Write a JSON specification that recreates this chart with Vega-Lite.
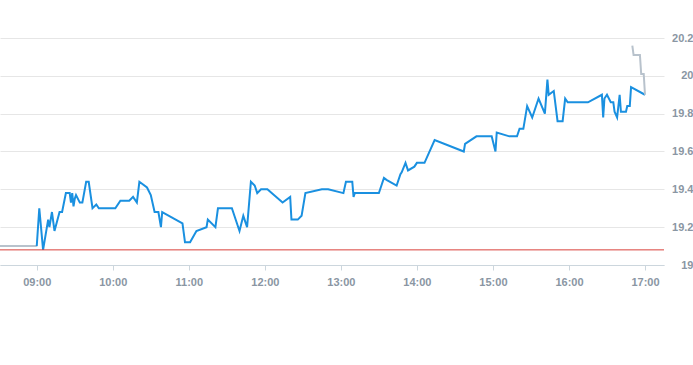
{
  "$schema": "https://vega.github.io/schema/vega-lite/v6.json",
  "width": 664,
  "height": 227,
  "autosize": "none",
  "padding": {"left": 0, "top": 38, "right": 29, "bottom": 100},
  "background": "white",
  "config": {"view": {"stroke": null}, "font": "Liberation Sans"},
  "datasets": {
    "price": [
      {"t": "2024-01-02T08:31", "v": 19.10, "s": "pre"},
      {"t": "2024-01-02T09:00", "v": 19.10, "s": "pre"},
      {"t": "2024-01-02T09:00", "v": 19.10, "s": "main"},
      {"t": "2024-01-02T09:02", "v": 19.30, "s": "main"},
      {"t": "2024-01-02T09:05", "v": 19.08, "s": "main"},
      {"t": "2024-01-02T09:09", "v": 19.24, "s": "main"},
      {"t": "2024-01-02T09:10", "v": 19.20, "s": "main"},
      {"t": "2024-01-02T09:12", "v": 19.28, "s": "main"},
      {"t": "2024-01-02T09:14", "v": 19.18, "s": "main"},
      {"t": "2024-01-02T09:18", "v": 19.28, "s": "main"},
      {"t": "2024-01-02T09:20", "v": 19.28, "s": "main"},
      {"t": "2024-01-02T09:23", "v": 19.38, "s": "main"},
      {"t": "2024-01-02T09:26", "v": 19.38, "s": "main"},
      {"t": "2024-01-02T09:27", "v": 19.33, "s": "main"},
      {"t": "2024-01-02T09:28", "v": 19.38, "s": "main"},
      {"t": "2024-01-02T09:29", "v": 19.31, "s": "main"},
      {"t": "2024-01-02T09:30", "v": 19.35, "s": "main"},
      {"t": "2024-01-02T09:31", "v": 19.37, "s": "main"},
      {"t": "2024-01-02T09:34", "v": 19.33, "s": "main"},
      {"t": "2024-01-02T09:36", "v": 19.33, "s": "main"},
      {"t": "2024-01-02T09:39", "v": 19.44, "s": "main"},
      {"t": "2024-01-02T09:41", "v": 19.44, "s": "main"},
      {"t": "2024-01-02T09:44", "v": 19.30, "s": "main"},
      {"t": "2024-01-02T09:47", "v": 19.32, "s": "main"},
      {"t": "2024-01-02T09:49", "v": 19.30, "s": "main"},
      {"t": "2024-01-02T10:02", "v": 19.30, "s": "main"},
      {"t": "2024-01-02T10:06", "v": 19.34, "s": "main"},
      {"t": "2024-01-02T10:13", "v": 19.34, "s": "main"},
      {"t": "2024-01-02T10:16", "v": 19.36, "s": "main"},
      {"t": "2024-01-02T10:19", "v": 19.33, "s": "main"},
      {"t": "2024-01-02T10:21", "v": 19.44, "s": "main"},
      {"t": "2024-01-02T10:27", "v": 19.41, "s": "main"},
      {"t": "2024-01-02T10:30", "v": 19.37, "s": "main"},
      {"t": "2024-01-02T10:33", "v": 19.28, "s": "main"},
      {"t": "2024-01-02T10:36", "v": 19.28, "s": "main"},
      {"t": "2024-01-02T10:38", "v": 19.20, "s": "main"},
      {"t": "2024-01-02T10:39", "v": 19.28, "s": "main"},
      {"t": "2024-01-02T10:55", "v": 19.22, "s": "main"},
      {"t": "2024-01-02T10:57", "v": 19.12, "s": "main"},
      {"t": "2024-01-02T11:01", "v": 19.12, "s": "main"},
      {"t": "2024-01-02T11:06", "v": 19.18, "s": "main"},
      {"t": "2024-01-02T11:14", "v": 19.20, "s": "main"},
      {"t": "2024-01-02T11:15", "v": 19.24, "s": "main"},
      {"t": "2024-01-02T11:21", "v": 19.20, "s": "main"},
      {"t": "2024-01-02T11:23", "v": 19.30, "s": "main"},
      {"t": "2024-01-02T11:34", "v": 19.30, "s": "main"},
      {"t": "2024-01-02T11:40", "v": 19.18, "s": "main"},
      {"t": "2024-01-02T11:43", "v": 19.26, "s": "main"},
      {"t": "2024-01-02T11:46", "v": 19.20, "s": "main"},
      {"t": "2024-01-02T11:49", "v": 19.44, "s": "main"},
      {"t": "2024-01-02T11:52", "v": 19.42, "s": "main"},
      {"t": "2024-01-02T11:54", "v": 19.38, "s": "main"},
      {"t": "2024-01-02T11:57", "v": 19.40, "s": "main"},
      {"t": "2024-01-02T12:02", "v": 19.40, "s": "main"},
      {"t": "2024-01-02T12:14", "v": 19.33, "s": "main"},
      {"t": "2024-01-02T12:20", "v": 19.36, "s": "main"},
      {"t": "2024-01-02T12:21", "v": 19.24, "s": "main"},
      {"t": "2024-01-02T12:26", "v": 19.24, "s": "main"},
      {"t": "2024-01-02T12:29", "v": 19.26, "s": "main"},
      {"t": "2024-01-02T12:32", "v": 19.38, "s": "main"},
      {"t": "2024-01-02T12:45", "v": 19.40, "s": "main"},
      {"t": "2024-01-02T12:50", "v": 19.40, "s": "main"},
      {"t": "2024-01-02T13:02", "v": 19.38, "s": "main"},
      {"t": "2024-01-02T13:04", "v": 19.44, "s": "main"},
      {"t": "2024-01-02T13:09", "v": 19.44, "s": "main"},
      {"t": "2024-01-02T13:10", "v": 19.36, "s": "main"},
      {"t": "2024-01-02T13:11", "v": 19.38, "s": "main"},
      {"t": "2024-01-02T13:30", "v": 19.38, "s": "main"},
      {"t": "2024-01-02T13:32", "v": 19.42, "s": "main"},
      {"t": "2024-01-02T13:34", "v": 19.46, "s": "main"},
      {"t": "2024-01-02T13:36", "v": 19.45, "s": "main"},
      {"t": "2024-01-02T13:44", "v": 19.42, "s": "main"},
      {"t": "2024-01-02T13:47", "v": 19.48, "s": "main"},
      {"t": "2024-01-02T13:48", "v": 19.49, "s": "main"},
      {"t": "2024-01-02T13:51", "v": 19.54, "s": "main"},
      {"t": "2024-01-02T13:53", "v": 19.50, "s": "main"},
      {"t": "2024-01-02T13:58", "v": 19.52, "s": "main"},
      {"t": "2024-01-02T14:00", "v": 19.54, "s": "main"},
      {"t": "2024-01-02T14:06", "v": 19.54, "s": "main"},
      {"t": "2024-01-02T14:14", "v": 19.66, "s": "main"},
      {"t": "2024-01-02T14:37", "v": 19.60, "s": "main"},
      {"t": "2024-01-02T14:38", "v": 19.64, "s": "main"},
      {"t": "2024-01-02T14:47", "v": 19.68, "s": "main"},
      {"t": "2024-01-02T14:59", "v": 19.68, "s": "main"},
      {"t": "2024-01-02T15:02", "v": 19.60, "s": "main"},
      {"t": "2024-01-02T15:03", "v": 19.70, "s": "main"},
      {"t": "2024-01-02T15:13", "v": 19.68, "s": "main"},
      {"t": "2024-01-02T15:19", "v": 19.68, "s": "main"},
      {"t": "2024-01-02T15:21", "v": 19.72, "s": "main"},
      {"t": "2024-01-02T15:24", "v": 19.72, "s": "main"},
      {"t": "2024-01-02T15:27", "v": 19.84, "s": "main"},
      {"t": "2024-01-02T15:31", "v": 19.78, "s": "main"},
      {"t": "2024-01-02T15:36", "v": 19.88, "s": "main"},
      {"t": "2024-01-02T15:41", "v": 19.80, "s": "main"},
      {"t": "2024-01-02T15:43", "v": 19.98, "s": "main"},
      {"t": "2024-01-02T15:44", "v": 19.90, "s": "main"},
      {"t": "2024-01-02T15:48", "v": 19.92, "s": "main"},
      {"t": "2024-01-02T15:51", "v": 19.76, "s": "main"},
      {"t": "2024-01-02T15:55", "v": 19.76, "s": "main"},
      {"t": "2024-01-02T15:57", "v": 19.88, "s": "main"},
      {"t": "2024-01-02T15:59", "v": 19.86, "s": "main"},
      {"t": "2024-01-02T16:15", "v": 19.86, "s": "main"},
      {"t": "2024-01-02T16:26", "v": 19.90, "s": "main"},
      {"t": "2024-01-02T16:27", "v": 19.78, "s": "main"},
      {"t": "2024-01-02T16:28", "v": 19.88, "s": "main"},
      {"t": "2024-01-02T16:30", "v": 19.90, "s": "main"},
      {"t": "2024-01-02T16:33", "v": 19.86, "s": "main"},
      {"t": "2024-01-02T16:35", "v": 19.86, "s": "main"},
      {"t": "2024-01-02T16:36", "v": 19.81, "s": "main"},
      {"t": "2024-01-02T16:38", "v": 19.78, "s": "main"},
      {"t": "2024-01-02T16:40", "v": 19.90, "s": "main"},
      {"t": "2024-01-02T16:41", "v": 19.81, "s": "main"},
      {"t": "2024-01-02T16:45", "v": 19.81, "s": "main"},
      {"t": "2024-01-02T16:46", "v": 19.84, "s": "main"},
      {"t": "2024-01-02T16:48", "v": 19.84, "s": "main"},
      {"t": "2024-01-02T16:49", "v": 19.94, "s": "main"},
      {"t": "2024-01-02T17:00", "v": 19.90, "s": "main"},
      {"t": "2024-01-02T16:50", "v": 20.16, "s": "post"},
      {"t": "2024-01-02T16:51", "v": 20.11, "s": "post"},
      {"t": "2024-01-02T16:56", "v": 20.11, "s": "post"},
      {"t": "2024-01-02T16:57", "v": 20.01, "s": "post"},
      {"t": "2024-01-02T16:59", "v": 20.01, "s": "post"},
      {"t": "2024-01-02T17:00", "v": 19.90, "s": "post"}
    ],
    "ref": [{"v": 19.08}]
  },
  "layer": [
    {
      "data": {"name": "price"},
      "mark": {"type": "line", "strokeWidth": 2},
      "encoding": {
        "x": {
          "field": "t",
          "type": "temporal",
          "scale": {
            "domain": [
              {"year": 2024, "month": 1, "date": 2, "hours": 8, "minutes": 31},
              {"year": 2024, "month": 1, "date": 2, "hours": 17, "minutes": 15}
            ],
            "nice": false
          },
          "axis": {
            "title": null,
            "format": "%H:%M",
            "values": [
              {"year": 2024, "month": 1, "date": 2, "hours": 9},
              {"year": 2024, "month": 1, "date": 2, "hours": 10},
              {"year": 2024, "month": 1, "date": 2, "hours": 11},
              {"year": 2024, "month": 1, "date": 2, "hours": 12},
              {"year": 2024, "month": 1, "date": 2, "hours": 13},
              {"year": 2024, "month": 1, "date": 2, "hours": 14},
              {"year": 2024, "month": 1, "date": 2, "hours": 15},
              {"year": 2024, "month": 1, "date": 2, "hours": 16},
              {"year": 2024, "month": 1, "date": 2, "hours": 17}
            ],
            "tickCount": 20,
            "grid": false,
            "domainColor": "#ccd6dd",
            "tickColor": "#ccd6dd",
            "tickSize": 5,
            "labelPadding": 6,
            "labelColor": "#8a96a3",
            "labelFontSize": 11,
            "labelFontWeight": "bold",
            "labelFlush": false,
            "labelOverlap": false
          }
        },
        "y": {
          "field": "v",
          "type": "quantitative",
          "scale": {"domain": [19, 20.2], "nice": false, "zero": false},
          "axis": {
            "title": null,
            "orient": "right",
            "values": [19, 19.2, 19.4, 19.6, 19.8, 20, 20.2],
            "tickCount": 20,
            "format": "~g",
            "domain": false,
            "ticks": false,
            "grid": true,
            "gridColor": "#e6e6e6",
            "gridOpacity": 1,
            "labelAlign": "right",
            "labelBaseline": "middle",
            "labelPadding": 29,
            "labelColor": "#8a96a3",
            "labelFontSize": 11,
            "labelFontWeight": "bold",
            "labelOverlap": false,
            "labelBound": false,
            "labelFlush": false
          }
        },
        "color": {
          "field": "s",
          "type": "nominal",
          "scale": {"domain": ["pre", "main", "post"], "range": ["#b8c2cc", "#1a90e0", "#b8c2cc"]},
          "legend": null
        }
      }
    },
    {
      "data": {"name": "ref"},
      "mark": {"type": "rule", "color": "#d9413a", "strokeWidth": 1},
      "encoding": {"y": {"field": "v", "type": "quantitative"}}
    }
  ]
}
